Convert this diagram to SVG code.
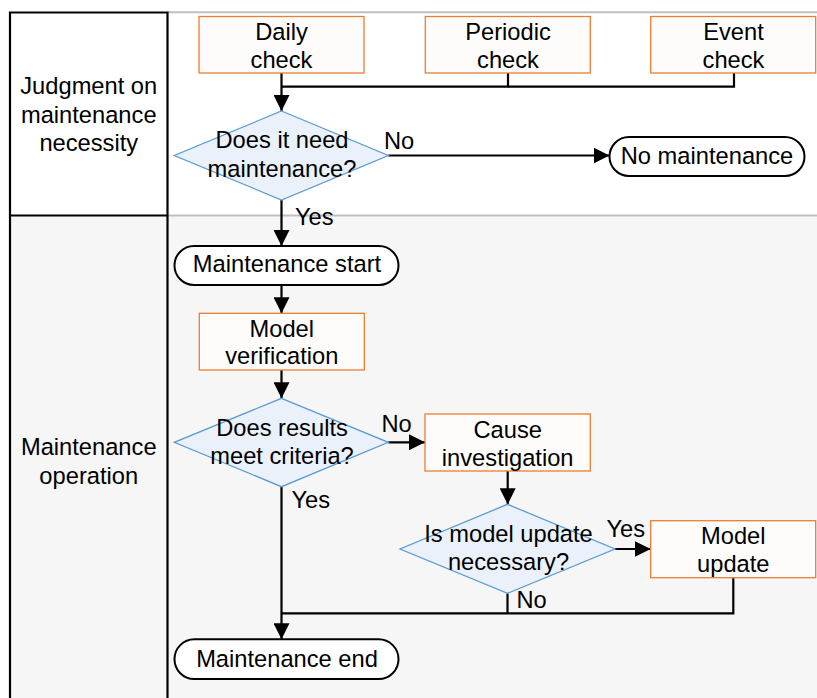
<svg xmlns="http://www.w3.org/2000/svg" width="817" height="698" viewBox="0 0 817 698">
<defs>
<style>
text{font-family:"Liberation Sans",Arial,sans-serif;font-size:23.7px;fill:#000;text-anchor:middle}
.lbl{text-anchor:start}
.proc{fill:#fdfcfa;stroke:#ed7d31;stroke-width:1.3}
.dec{fill:#eaf1fa;stroke:#5b9bd5;stroke-width:1.3}
.term{fill:#fff;stroke:#000;stroke-width:2}
.conn{fill:none;stroke:#000;stroke-width:2.2}
.lane{fill:none;stroke:#000;stroke-width:2.2}
.sep{stroke:#bfbfbf;stroke-width:2}
</style>
<marker id="arr" markerUnits="userSpaceOnUse" markerWidth="16" markerHeight="16" refX="16" refY="8" orient="auto">
<path d="M0,0 L16,8 L0,16 z" fill="#000"/>
</marker>
</defs>
<rect x="0" y="0" width="817" height="698" fill="#fff"/>
<rect x="10" y="215.5" width="807" height="483" fill="#f6f6f6"/>
<g id="lanes">
<line class="sep" x1="168" y1="12.3" x2="817" y2="12.3"/>
<line class="sep" x1="168" y1="215.5" x2="817" y2="215.5"/>
<path class="lane" d="M10,700 V12.5 H167.5 V700 M10,215.5 H167.5"/>
<text x="88.75" y="94">Judgment on</text>
<text x="88.75" y="122.5">maintenance</text>
<text x="88.75" y="151">necessity</text>
<text x="88.75" y="455">Maintenance</text>
<text x="88.75" y="483.5">operation</text>
</g>
<g id="connectors">
<path class="conn" d="M281.5,73 V111" marker-end="url(#arr)"/>
<path class="conn" d="M508,73 V86.7 H281.5"/>
<path class="conn" d="M734,73 V86.7 H508"/>
<path class="conn" d="M388.3,155.5 H609.5" marker-end="url(#arr)"/>
<path class="conn" d="M281.5,200 V246" marker-end="url(#arr)"/>
<path class="conn" d="M281.5,285 V313.3" marker-end="url(#arr)"/>
<path class="conn" d="M281.5,370 V398.3" marker-end="url(#arr)"/>
<path class="conn" d="M388.3,442.3 H425" marker-end="url(#arr)"/>
<path class="conn" d="M507.7,471 V504.3" marker-end="url(#arr)"/>
<path class="conn" d="M615,549 H650.7" marker-end="url(#arr)"/>
<path class="conn" d="M733.3,577.7 V613.3 H281.5"/>
<path class="conn" d="M507.5,593.3 V613.3"/>
<path class="conn" d="M281.5,486.7 V639.3" marker-end="url(#arr)"/>
<text class="lbl" x="384" y="149">No</text>
<text class="lbl" x="295" y="225">Yes</text>
<text class="lbl" x="381.5" y="431.7">No</text>
<text class="lbl" x="291.5" y="508.3">Yes</text>
<text class="lbl" x="606.5" y="536.7">Yes</text>
<text class="lbl" x="516.5" y="608.3">No</text>
</g>
<g id="daily">
<rect class="proc" x="199" y="16.5" width="165" height="56.5"/>
<text x="281.5" y="40">Daily</text>
<text x="281.5" y="68.3">check</text>
</g>
<g id="periodic">
<rect class="proc" x="425.3" y="16.5" width="165" height="56.5"/>
<text x="508" y="40">Periodic</text>
<text x="508" y="68.3">check</text>
</g>
<g id="event">
<rect class="proc" x="650.7" y="16.5" width="165" height="56.5"/>
<text x="733.5" y="40">Event</text>
<text x="733.5" y="68.3">check</text>
</g>
<g id="need">
<polygon class="dec" points="281.5,111 388.3,155.5 281.5,200 174.3,155.5"/>
<text x="282" y="148.3">Does it need</text>
<text x="282" y="176.8">maintenance?</text>
</g>
<g id="nomaint">
<rect class="term" x="609.5" y="137" width="195" height="39" rx="19.5"/>
<text x="707" y="163.5">No maintenance</text>
</g>
<g id="start">
<rect class="term" x="174.5" y="246" width="224" height="39" rx="19.5"/>
<text x="287" y="272">Maintenance start</text>
</g>
<g id="verify">
<rect class="proc" x="199.3" y="313.3" width="165" height="56.7"/>
<text x="281.8" y="337.3">Model</text>
<text x="281.8" y="364.3">verification</text>
</g>
<g id="criteria">
<polygon class="dec" points="281.5,398.3 388.3,442.3 281.5,486.7 174.3,442.3"/>
<text x="282" y="435.5">Does results</text>
<text x="282" y="463.5">meet criteria?</text>
</g>
<g id="cause">
<rect class="proc" x="425" y="414" width="165.3" height="57"/>
<text x="507.7" y="438.3">Cause</text>
<text x="507.7" y="466">investigation</text>
</g>
<g id="updq">
<polygon class="dec" points="507.5,504.3 615,549 507.5,593.3 400,549"/>
<text x="508.5" y="541.7">Is model update</text>
<text x="508.5" y="570">necessary?</text>
</g>
<g id="update">
<rect class="proc" x="650.7" y="520.7" width="165" height="57"/>
<text x="733.3" y="543.5">Model</text>
<text x="733.3" y="571.7">update</text>
</g>
<g id="end">
<rect class="term" x="174.5" y="639.3" width="224" height="39.7" rx="19.8"/>
<text x="287" y="666.7">Maintenance end</text>
</g>
</svg>
